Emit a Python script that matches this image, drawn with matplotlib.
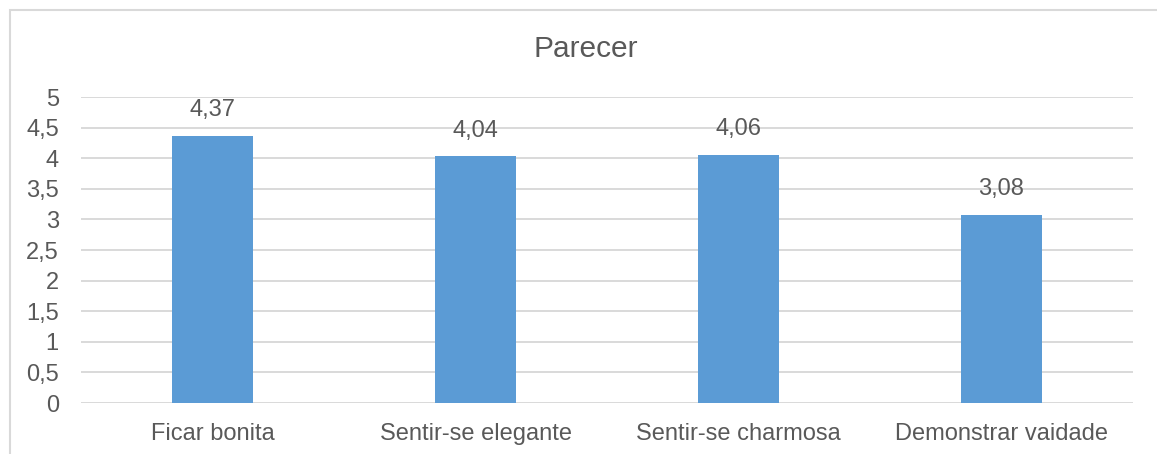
import matplotlib
matplotlib.use("Agg")
import matplotlib.pyplot as plt
from matplotlib.patches import Rectangle

categories = ["Ficar bonita", "Sentir-se elegante", "Sentir-se charmosa", "Demonstrar vaidade"]
values = [4.37, 4.04, 4.06, 3.08]
yticks = [0, 0.5, 1, 1.5, 2, 2.5, 3, 3.5, 4, 4.5, 5]
title = "Parecer"

plt.rcParams['font.family'] = ['Liberation Sans', 'DejaVu Sans']
TXT = '#595959'

W, H = 1157, 454
fig = plt.figure(figsize=(W/100, H/100), dpi=100)
ax = fig.add_axes([81/W, 1-403/H, (1133-81)/W, (403-97)/H])

x = list(range(len(categories)))
ax.bar(x, values, width=0.31, color='#5B9BD5', zorder=3)
for xi, v in zip(x, values):
    ax.text(xi, v + 0.23, f"{v:.2f}".replace('.', ','), ha='center', va='bottom',
            fontsize=17, color=TXT)

ax.set_xlim(-0.5, len(categories) - 0.5)
ax.set_ylim(0, 5)
ax.set_yticks(yticks)
ax.set_yticklabels([f"{t:g}".replace('.', ',') for t in yticks], fontsize=17, color=TXT)
ax.set_xticks(x)
ax.set_xticklabels(categories, fontsize=17, color=TXT)
ax.tick_params(axis='both', length=0)
ax.tick_params(axis='y', pad=16)
ax.tick_params(axis='x', pad=14.5)
ax.grid(axis='y', color='#D9D9D9', linewidth=1.4, zorder=0)
for s in ax.spines.values():
    s.set_visible(False)

fig.text(586/W, 1-49/H, title, ha='center', va='center', fontsize=21.5, color=TXT)

fig.patches.append(Rectangle((10/W, -0.05), 1.2, 1-10/H+0.05, transform=fig.transFigure,
                             fill=False, edgecolor='#D9D9D9', linewidth=1.5))

fig.savefig("out.png", dpi=100)
